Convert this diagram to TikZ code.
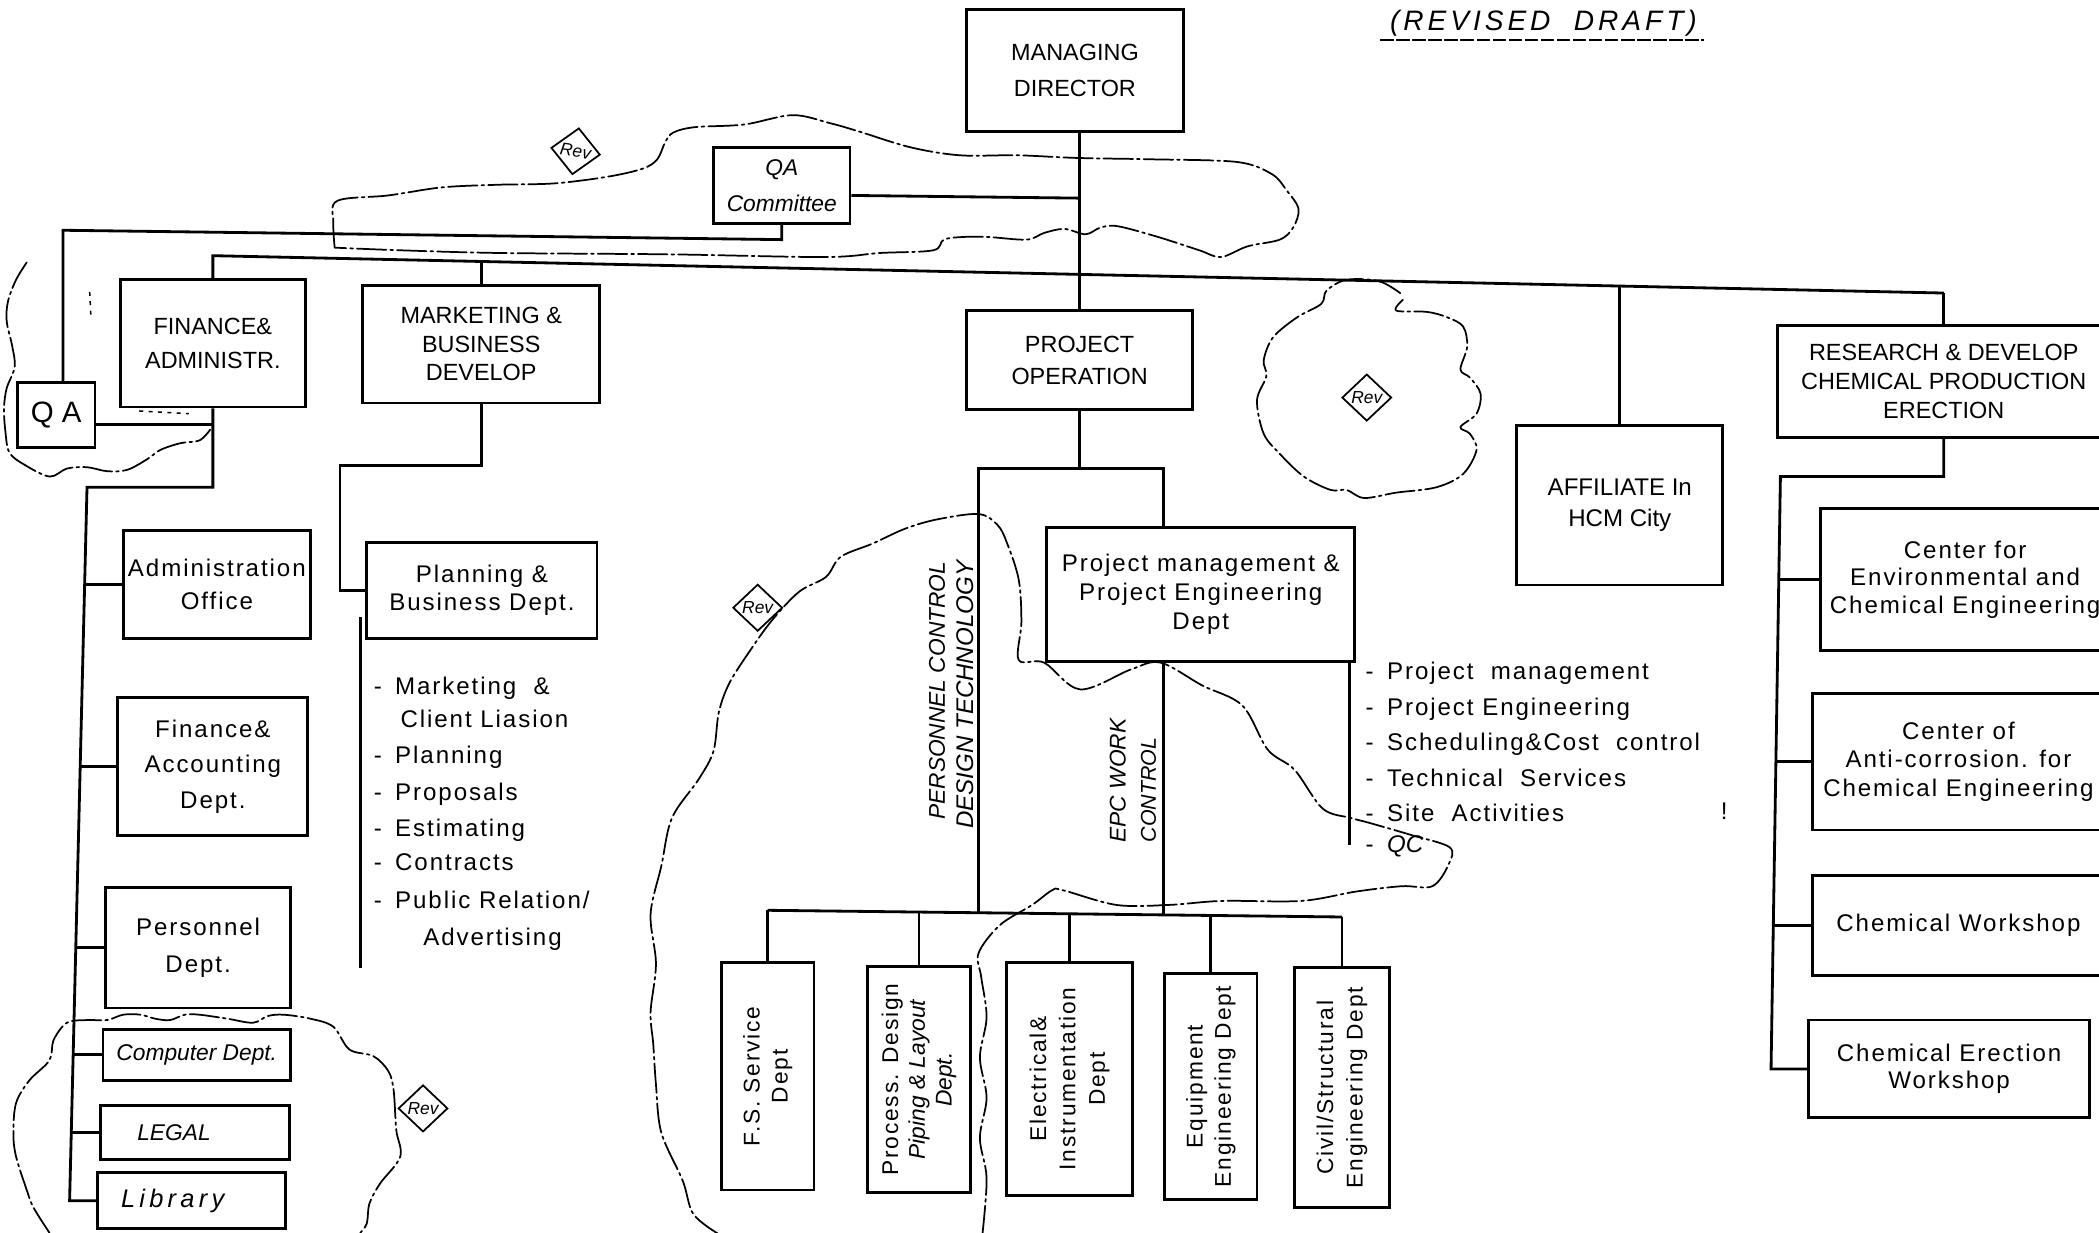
\documentclass[tikz,border=0pt]{standalone}
\usepackage{fontspec}
\setmainfont{Liberation Sans}
\newfontfamily\bodyf[LetterSpace=8]{Liberation Sans}
\newfontfamily\handf{Liberation Sans}
\newfontfamily\titlef[LetterSpace=14]{Liberation Sans}
\usetikzlibrary{shapes.geometric}
\begin{document}
\begin{tikzpicture}[x=1pt,y=-1pt,
  ln/.style={line width=2.1pt},
  bx/.style={draw, line width=2.1pt, align=center, inner sep=0pt},
  capf/.style={font=\fontsize{17.5}{#1}\selectfont},
  bodyS/.style={font=\bodyf\fontsize{18}{#1}\selectfont},
  bodyR/.style={font=\bodyf\fontsize{17}{#1}\selectfont},
  handS/.style={font=\handf\itshape\fontsize{17}{#1}\selectfont},
  cloudln/.style={line width=1.3pt, dash pattern=on 22pt off 3pt on 2pt off 3pt, line cap=round},
  rev/.style={draw, diamond, line width=1.3pt, inner sep=0pt, minimum width=37, minimum height=35, font=\handf\itshape\fontsize{13}{13}\selectfont},
  item/.style={bodyS=20, anchor=mid west, inner sep=0pt}
]
\useasboundingbox (0,0) rectangle (1568,921);
\clip (0,0) rectangle (1568,921);

% ---------- title ----------
\node[font=\titlef\itshape\fontsize{21}{21}\selectfont, inner sep=0pt] (title) at (1153,17) {(REVISED \ DRAFT)};
\draw[line width=1.5pt, dash pattern=on 10pt off 2pt] (1031,30) -- (1273,30);

% ---------- top level boxes ----------
\node[bx, minimum width=162, minimum height=91, capf=27] (MD) at (803,52.5) {MANAGING\\DIRECTOR};
\node[bx, minimum width=102, minimum height=57, handS=27] (QAC) at (584,138.5) {QA\\Committee};
\node[bx, minimum width=58, minimum height=48, font=\fontsize{22}{22}\selectfont] (QA) at (42,310) {Q A};
\node[bx, minimum width=138, minimum height=95, capf=26] (FIN) at (159,256.5) {FINANCE\&\\ADMINISTR.};
\node[bx, minimum width=177, minimum height=88, capf=21] (MKT) at (359.5,257) {MARKETING \&\\BUSINESS\\DEVELOP};
\node[bx, minimum width=169, minimum height=74, capf=24] (PO) at (806.5,269) {PROJECT\\OPERATION};
\node[bx, minimum width=154, minimum height=119, font=\fontsize{18}{23}\selectfont] (AFF) at (1210,377.5) {AFFILIATE In\\HCM City};
\node[bx, minimum width=248, minimum height=84, font=\fontsize{17.5}{21.5}\selectfont] (RES) at (1452,285) {RESEARCH \& DEVELOP\\CHEMICAL PRODUCTION\\ERECTION};

% ---------- left column ----------
\node[bx, minimum width=140, minimum height=81, bodyS=25] (ADM) at (162,436.5) {Administration\\Office};
\node[bx, minimum width=142, minimum height=103, bodyS=26.5] (FAC) at (159,572.5) {Finance\&\\Accounting\\Dept.};
\node[bx, minimum width=138, minimum height=90, bodyS=27] (PER) at (148,708) {Personnel\\Dept.};
\node[bx, minimum width=140, minimum height=38, handS=20] (COMP) at (147,788) {Computer Dept.};
\node[bx, minimum width=141, minimum height=40, handS=20] (LEG) at (145.5,846) {LEGAL\hspace{31pt}};
\node[bx, minimum width=140, minimum height=42, font=\handf\itshape\fontsize{19}{20}\selectfont] (LIB) at (143,897) {L\,i\,b\,r\,a\,r\,y\hspace{28pt}};

% ---------- planning ----------
\node[bx, minimum width=172, minimum height=72, bodyS=21] (PLN) at (360,441) {Planning \&\\Business Dept.};
\node[item] (p1) at (279,516) {-\hspace{10pt}Marketing \ \&};
\node[item] (p2) at (299,541) {Client Liasion};
\node[item] (p3) at (279,568) {-\hspace{10pt}Planning};
\node[item] (p4) at (279,595) {-\hspace{10pt}Proposals};
\node[item] (p5) at (279,622) {-\hspace{10pt}Estimating};
\node[item] (p6) at (279,648) {-\hspace{10pt}Contracts};
\node[item] (p7) at (279,676) {-\hspace{10pt}Public Relation/};
\node[item] (p8) at (316,704) {Advertising};

% ---------- project management ----------
\node[bx, minimum width=230, minimum height=100, bodyS=21.5] (PM) at (897,444) {Project management \&\\Project Engineering\\Dept};
\node[item] (m1) at (1020,505) {-\hspace{10pt}Project \ management};
\node[item] (m2) at (1020,532) {-\hspace{10pt}Project Engineering};
\node[item] (m3) at (1020,558) {-\hspace{10pt}Scheduling\&Cost \ control};
\node[item] (m4) at (1020,585) {-\hspace{10pt}Technical \ Services};
\node[item] (m5) at (1020,611) {-\hspace{10pt}Site \ Activities};
\node[item] (m6) at (1020,634) {-\hspace{10pt}{\handf\itshape QC}};
\node[bodyS=18, inner sep=0pt] (excl) at (1288,606) {!};

% ---------- sub departments (rotated) ----------
\node[bx, rotate=90, minimum width=170, minimum height=69, bodyR=21] (FS) at (573.5,804) {F.S. Service\\Dept};
\node[bx, rotate=90, minimum width=169, minimum height=77, bodyR=20] (PD) at (686.5,806.5) {Process. Design\\{\handf\itshape Piping \& Layout}\\{\handf\itshape Dept.}};
\node[bx, rotate=90, minimum width=174, minimum height=94, bodyR=22] (EI) at (799,806) {Electrical\&\\Instrumentation\\Dept};
\node[bx, rotate=90, minimum width=169, minimum height=69, bodyR=21] (EQ) at (904.5,811.5) {Equipment\\Engineering Dept};
\node[bx, rotate=90, minimum width=179, minimum height=71, bodyR=22] (CS) at (1002.5,812.5) {Civil/Structural\\Engineering Dept};

\node[handS=17, rotate=90, inner sep=0pt] (pc) at (700,516) {PERSONNEL CONTROL};
\node[font=\handf\itshape\fontsize{18}{18}\selectfont, rotate=90, inner sep=0pt] (dt) at (721,519) {DESIGN TECHNOLOGY};
\node[handS=17, rotate=90, inner sep=0pt] (epc) at (835,583) {EPC WORK};
\node[font=\handf\itshape\fontsize{16}{16}\selectfont, rotate=90, inner sep=0pt] (ctl) at (858,590) {CONTROL};

% ---------- right column ----------
\node[bx, minimum width=216, minimum height=106, bodyS=20.5] (CE) at (1468,433) {Center for\\Environmental and\\Chemical Engineering};
\node[bx, minimum width=218, minimum height=102, bodyS=21] (CA) at (1463,569) {Center of\\Anti-corrosion. for\\Chemical Engineering};
\node[bx, minimum width=218, minimum height=75, bodyS=20] (CW) at (1463,691.5) {Chemical Workshop};
\node[bx, minimum width=210, minimum height=73, bodyS=20] (CEW) at (1456,798.5) {Chemical Erection\\Workshop};

% ---------- helper coordinates ----------
\coordinate (qay) at (0,317);
\coordinate (qax) at (47,0);
\coordinate (qcy) at (0,146);
\coordinate (pmx) at (869,0);
\coordinate (pmr) at (1008,0);

% ---------- connectors ----------
\draw[ln] (MD.south -| PO.north) -- (PO.north);
\draw[ln] (QAC.east |- qcy) -- (806,148);
\draw[ln] (QAC.south) -- (584,179) -- (47,172) -- (QA.north -| qax);
\draw[ln] (QA.east |- qay) -- (FIN.south |- qay);
\draw[ln] (FIN.north) -- (159,191) -- (1452,218.9);
\draw[ln] (MKT.north) -- (359.5,195.4);
\draw[ln] (AFF.north) -- (1210,213.7);
\draw[ln] (RES.north) -- (1452,218.9);

% left trunk
\draw[ln] (FIN.south) |- (65,364) -- (52,897) -- (LIB.west);
\draw[ln] (ADM.west) -- (63.2,436.5);
\draw[ln] (FAC.west) -- (59.9,572.5);
\draw[ln] (PER.west) -- (56.6,708);
\draw[ln] (COMP.west) -- (54.7,788);
\draw[ln] (LEG.west) -- (53.2,846);

% marketing / planning
\draw[ln] (MKT.south) |- (254,348) |- (PLN.west);
\draw[ln] (269,461) -- (269,723);

% project operation
\draw[ln] (PO.south) -- (806.5,350);
\draw[ln] (731,681.8) -- (731,350) -- (869,350) -- (PM.north -| pmx);
\draw[ln] (PM.south -| pmx) -- (869,683.4);
\draw[ln] (PM.south -| pmr) -- (1008,631);
\draw[ln] (573.5,680) -- (1002.5,685);
\draw[ln] (FS.east) -- (573.5,680);
\draw[ln] (PD.east) -- (686.5,681.3);
\draw[ln] (EI.east) -- (799,682.6);
\draw[ln] (EQ.east) -- (904.5,683.9);
\draw[ln] (CS.east) -- (1002.5,685);

% right trunk
\draw[ln] (RES.south) |- (1330,356) -- (1323,798.5) -- (CEW.west);
\draw[ln] (CE.west) -- (1328.8,433);
\draw[ln] (CA.west) -- (1326.6,569);
\draw[ln] (CW.west) -- (1324.7,691.5);

% ---------- clouds ----------
\draw[cloudln] plot[smooth, tension=0.55] coordinates {
 (250,185) (249,166) (252,150) (290,146) (330,140) (372,138) (414,137) (454,132) (480,126)
 (491,119) (497,106) (503,99) (519,95) (556,93) (592,86) (620,92) (641,98) (680,110)
 (717,116) (760,116) (805,118) (860,119) (924,121) (950,130) (961,142) (970,156)
 (966,170) (956,179) (932,184) (912,192) (896,187) (865,177) (835,169) (822,170)
 (811,175) (795,171) (780,174) (767,179) (738,177) (720,177) (705,179) (697,187)
 (657,189) (616,192) (500,190) (374,189) (300,187) (250,185)};

\draw[cloudln] plot[smooth, tension=0.55] coordinates {
 (20,196) (12,209) (6,225) (5,240) (9,258) (11,274) (5,290) (3,305) (4,322) (7,338)
 (18,347) (37,356) (50,350) (65,349) (80,352) (95,351) (110,343) (120,336) (135,331)
 (149,329) (157,321)};
\draw[line width=1.1pt, dash pattern=on 3pt off 4pt] (104,307) -- (141,309);
\draw[line width=1.1pt, dash pattern=on 3pt off 4pt] (67,218) -- (68,238);

\draw[cloudln] plot[smooth, tension=0.55] coordinates {
 (37,921) (25,902) (20,889) (12,864) (10,847) (12,824) (22,807) (37,792) (40,777)
 (50,764) (65,762) (80,762) (92,758) (105,758) (116,761) (127,762) (138,758) (149,758)
 (170,761) (189,764) (200,759) (212,758) (232,761) (249,767) (261,784) (279,789)
 (290,800) (294,814) (296,844) (299,864) (284,884) (276,899) (274,914) (269,921)};

\draw[cloudln] plot[smooth, tension=0.55] coordinates {
 (1046,219) (1030,210) (1006,209) (991,217) (987,227) (969,237) (951,252) (944,269)
 (946,281) (939,299) (944,324) (956,339) (974,356) (994,366) (1006,366) (1019,372)
 (1043,368) (1073,364) (1093,354) (1103,336) (1098,324) (1091,319) (1103,309)
 (1106,294) (1098,282) (1091,276) (1096,259) (1093,244) (1081,237) (1066,233)
 (1043,232) (1048,224)};

\draw[cloudln] plot[smooth, tension=0.55] coordinates {
 (537,922) (518,907) (510,882) (494,846) (490,810) (488,780) (486,756) (490,720)
 (486,683) (494,647) (502,611) (522,582) (533,561) (537,532) (545,510) (561,485)
 (577,463) (597,442) (617,431) (628,416) (652,406) (676,395) (700,388) (731,384)
 (745,392) (752,405) (761,433) (763,465) (761,493) (780,495) (807,515) (845,500)
 (867,495) (898,512) (928,527) (947,560) (967,575) (988,604) (1009,611) (1024,615)
 (1055,624) (1083,633) (1082,646) (1070,662) (1047,662) (1013,666) (972,673)
 (913,673) (873,676) (834,676) (794,665) (786,665) (771,676) (747,691) (731,712)
 (733,730) (737,760) (732,790) (737,820) (732,850) (737,880) (734,921)};

% ---------- Rev marks ----------
\node[rev, rotate=-8] (rv1) at (430,113) {Rev};
\node[rev] (rv2) at (566,454) {Rev};
\node[rev] (rv3) at (1021,297) {Rev};
\node[rev] (rv4) at (316,828) {Rev};
\end{tikzpicture}
\end{document}
